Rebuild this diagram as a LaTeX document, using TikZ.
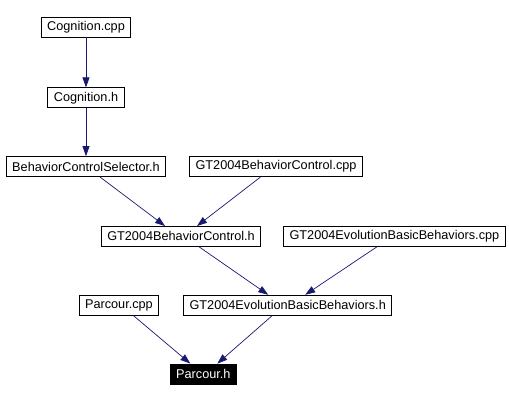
\documentclass[tikz,border=0pt]{standalone}
\usepackage{fontspec}
\setmainfont{Liberation Sans}
\usetikzlibrary{arrows.meta,positioning,calc}
\definecolor{depink}{HTML}{191970}

\begin{document}
\begin{tikzpicture}[
  x=1pt, y=-1pt,
  >={Triangle[length=10pt,width=7pt]},
  file/.style={draw, line width=0.8pt, minimum height=20pt,
               inner xsep=6pt, inner ysep=0pt,
               font=\fontsize{12.7}{15}\selectfont},
  current/.style={file, fill=black, text=white},
  dep/.style={->, draw=depink, line width=0.7pt},
]
\useasboundingbox (0,0) rectangle (509,401);

% --- Top of the include chain ---
\node[file] (cogcpp) at (86,27) {Cognition.cpp};
\node[file, below=50pt of cogcpp] (cogh) {Cognition.h};
\node[file, below=48pt of cogh]   (sel)  {BehaviorControlSelector.h};
\node[file, right=23pt of sel]    (bccpp) {GT2004BehaviorControl.cpp};

% --- Behavior control level ---
\node[file, below=49pt of $(sel.south)!0.5!(bccpp.south)$] (bch) {GT2004BehaviorControl.h};
\node[file, right=22pt of bch] (ebbcpp) {GT2004EvolutionBasicBehaviors.cpp};

% --- Evolution basic behaviors level ---
\node[file, below=48pt of $(bch.south)!0.5!(ebbcpp.south)$] (ebbh) {GT2004EvolutionBasicBehaviors.h};
\node[file, left=24pt of ebbh] (parcpp) {Parcour.cpp};

% --- The file itself ---
\node[current, below=48pt of $(parcpp.south)!0.5!(ebbh.south)$] (parh) {Parcour.h};

% Dependency arrows
\draw[dep] (cogcpp.south) -- (cogh.north);
\draw[dep] (cogh.south) -- (sel.north);
\draw[dep] ($(sel.south)+(14,0)$) -- ($(bch.north)+(-16,0)$);
\draw[dep] ($(bccpp.south)+(-15.5,0)$) -- ($(bch.north)+(16,0)$);
\draw[dep] ($(bch.south)+(18,0)$) -- ($(ebbh.north)+(-19.5,0)$);
\draw[dep] ($(ebbcpp.south)+(-17.5,0)$) -- ($(ebbh.north)+(17.5,0)$);
\draw[dep] ($(parcpp.south)+(14.5,0)$) -- ($(parh.north)+(-13,0)$);
\draw[dep] ($(ebbh.south)+(-15.5,0)$) -- ($(parh.north)+(14,0)$);
\end{tikzpicture}
\end{document}
